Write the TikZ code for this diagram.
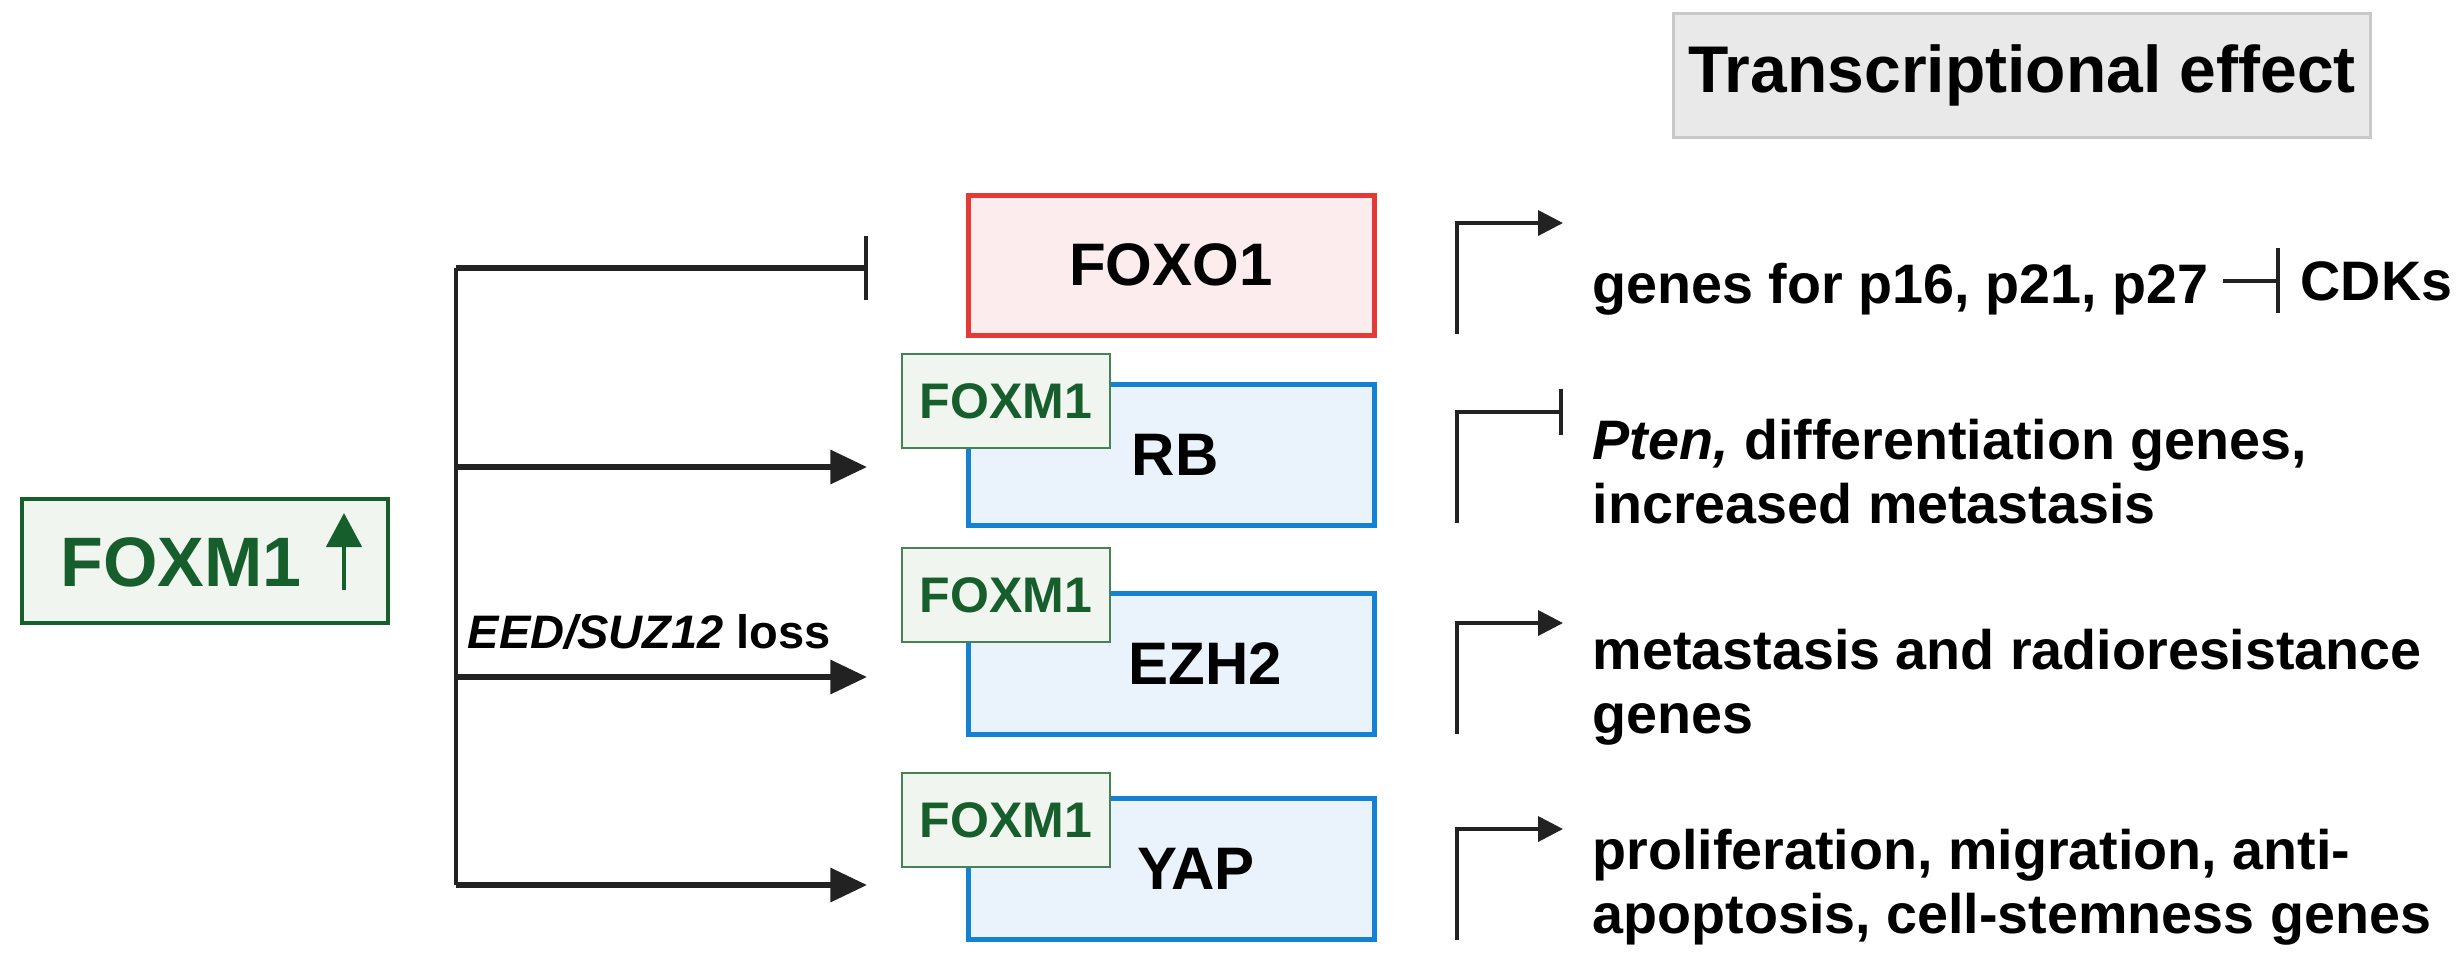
\documentclass[tikz,border=0pt]{standalone}
\usepackage{fontspec}
\setmainfont{Liberation Sans}
\usetikzlibrary{arrows.meta}

\definecolor{fxgreen}{RGB}{22,94,44}
\definecolor{fxedge}{RGB}{70,130,85}
\definecolor{fxfill}{RGB}{241,245,239}
\definecolor{foxored}{RGB}{229,57,53}
\definecolor{foxopink}{RGB}{253,236,237}
\definecolor{tfblue}{RGB}{20,130,210}
\definecolor{tfpale}{RGB}{234,242,252}
\definecolor{headfill}{RGB}{233,233,233}
\definecolor{headedge}{RGB}{200,200,200}
\definecolor{ink}{RGB}{34,34,34}

\begin{document}
\begin{tikzpicture}[x=0.3pt,y=-0.3pt,
  foxbig/.style={draw=fxgreen,line width=1.2pt,fill=fxfill,minimum width=109.8pt,minimum height=37.2pt,inner sep=0pt},
  foxsmall/.style={draw=fxedge,line width=0.8pt,fill=fxfill,minimum width=62.4pt,minimum height=28.2pt,inner sep=0pt,
    text=fxgreen,font=\fontsize{15}{17}\selectfont\bfseries},
  redbox/.style={draw=foxored,fill=foxopink,line width=1.5pt,minimum width=121.8pt,minimum height=42pt,inner sep=0pt},
  bluebox/.style={draw=tfblue,fill=tfpale,line width=1.5pt,minimum width=121.8pt,minimum height=42.3pt,inner sep=0pt},
  boxlbl/.style={inner sep=0pt,font=\fontsize{18}{20}\selectfont\bfseries},
  effect/.style={anchor=base west,align=left,inner sep=0pt,font=\fontsize{16.7}{19.2}\selectfont\bfseries},
  trunk/.style={draw=ink,line width=1.2pt},
  act/.style={draw=ink,line width=1.7pt,-{Triangle[length=11pt,width=10pt]}},
  blk/.style={draw=ink,line width=1.7pt,-{Bar[width=19pt,line width=1.2pt]}},
  promact/.style={draw=ink,line width=1.1pt,-{Triangle[length=7.5pt,width=7.5pt]}},
  promrep/.style={draw=ink,line width=1.1pt,-{Bar[width=14pt,line width=1.1pt]}}]
\useasboundingbox (0,0) rectangle (2457,978);

% header
\node[draw=headedge,line width=0.9pt,fill=headfill,minimum width=209.1pt,minimum height=37.2pt,
  font=\fontsize{19.8}{22}\selectfont\bfseries] (head) at (2022,75) {Transcriptional effect};

% FOXM1 up
\node[foxbig] (foxm) at (205,561) {};
\node[inner sep=0pt,text=fxgreen,font=\fontsize{21}{24}\selectfont\bfseries] (foxmtxt) at (181,562) {FOXM1};
\coordinate (upbot) at (344,590);
\coordinate (uptop) at (344,513);
\draw[fxgreen,line width=1.4pt,-{Triangle[length=10.2pt,width=10.5pt]}] (upbot) -- (uptop);

% targets
\node[redbox] (foxo) at (1171,265) {};
\node[boxlbl] at (foxo.center) {FOXO1};
\node[bluebox] (rb) at (1171,455) {};
\node[boxlbl] at ([xshift=1.2pt]rb.center) {RB};
\node[bluebox] (ezh) at (1171,664) {};
\node[boxlbl] at ([xshift=10.2pt]ezh.center) {EZH2};
\node[bluebox] (yap) at (1171,869) {};
\node[boxlbl] at ([xshift=7.5pt]yap.center) {YAP};
\node[foxsmall] (fxrb) at (1006,401) {FOXM1};
\node[foxsmall] (fxezh) at (1006,595) {FOXM1};
\node[foxsmall] (fxyap) at (1006,820) {FOXM1};

% branches
\coordinate (fork1) at (456,268);
\coordinate (fork2) at (456,467);
\coordinate (fork3) at (456,677);
\coordinate (fork4) at (456,885);
\coordinate (end1) at (868,268);
\coordinate (end2) at (867,467);
\coordinate (end3) at (867,677);
\coordinate (end4) at (867,885);
\draw[trunk] (fork1) -- (fork4);
\draw[blk] (fork1) -- (end1);
\foreach \i in {2,3,4}
  \draw[act] (fork\i) -- (end\i);
\node[anchor=base west,inner sep=0pt,font=\fontsize{14.1}{16}\selectfont\bfseries] (eedlbl) at (467,648) {\textit{EED/SUZ12} loss};

% promoters
\foreach \ybot/\tip in {334/promact,523/promrep,734/promact,940/promact}
  \draw[\tip] (1457,\ybot) -- ++(0,-111) -- ++(106,0);

% effects (base = last line)
\node[effect] (tfoxo) at (1592,303) {genes for p16, p21, p27};
\node[effect] (cdks) at (2300,300) {CDKs};
\draw[draw=ink,line width=1.2pt,-{Bar[width=19.5pt,line width=1.1pt]},shorten <=4.2pt,shorten >=6pt] (tfoxo.east |- cdks.west) -- (cdks.west);
\node[effect] (trb) at (1592,523) {\textit{Pten,} differentiation genes,\\increased metastasis};
\node[effect] (tezh) at (1592,733) {metastasis and radioresistance\\genes};
\node[effect] (tyap) at (1592,933) {proliferation, migration, anti-\\apoptosis, cell-stemness genes};
\end{tikzpicture}
\end{document}
